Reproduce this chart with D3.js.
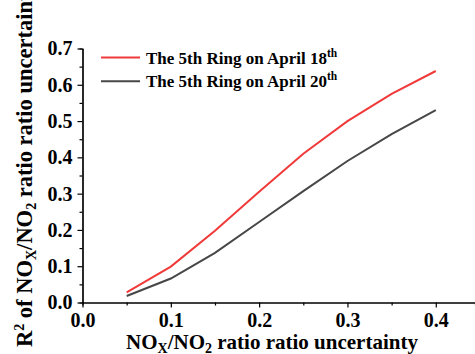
<!DOCTYPE html>
<html>
<head>
<meta charset="utf-8">
<script src="https://cdn.jsdelivr.net/npm/d3@7"></script>
<style>
	body { margin: 0; background: #fff; overflow: hidden; }
	text { font-family: "Liberation Serif", "Times New Roman", serif; font-weight: bold; fill: #000; }
</style>
</head>
<body>
<div id="chart"></div>
<script>
// NOx/NO2 ratio uncertainty
const uncertainty = [0.05, 0.1, 0.15, 0.2, 0.25, 0.3, 0.35, 0.4];
// R^2 for each day
const april18 = [0.028, 0.099, 0.198, 0.305, 0.41, 0.5, 0.575, 0.638];
const april20 = [0.018, 0.066, 0.137, 0.222, 0.307, 0.39, 0.464, 0.53];
const seriesNames = ['The 5th Ring on April 18', 'The 5th Ring on April 20'];
const seriesColors = ['#f03a3a', '#474747'];
const xTicks = [0, 0.1, 0.2, 0.3, 0.4];
const yTicks = [0, 0.1, 0.2, 0.3, 0.4, 0.5, 0.6, 0.7];

const width = 475, height = 354;
const margin = { top: 48.5, right: 0, bottom: 51.5, left: 82.5 };

const svg = d3.select('#chart')
	.append('svg')
	.attr('width', width)
	.attr('height', height);

const x = d3.scaleLinear()
	.domain([0, 0.4444])
	.range([margin.left, width - margin.right]);

const y = d3.scaleLinear()
	.domain([0, 0.7])
	.range([height - margin.bottom, margin.top]);

// minor ticks at the half steps
const xMinor = d3.range(0.05, 0.45, 0.1);
const yMinor = d3.range(0.05, 0.7, 0.1);

const axisStyle = g => {
	g.select('.domain').attr('stroke', '#000').attr('stroke-width', 1.2);
	g.selectAll('.tick line').attr('stroke', '#000').attr('stroke-width', 1.2);
};

svg.append('g')
	.attr('transform', `translate(0,${height - margin.bottom})`)
	.call(d3.axisBottom(x).tickValues(xMinor).tickSize(3).tickFormat(''))
	.call(axisStyle);

svg.append('g')
	.attr('transform', `translate(0,${height - margin.bottom})`)
	.call(d3.axisBottom(x).tickValues(xTicks).tickSize(5).tickSizeOuter(0).tickPadding(5).tickFormat(d3.format('.1f')))
	.call(axisStyle)
	.selectAll('text')
	.style('font-size', '20px');

svg.append('g')
	.attr('transform', `translate(${margin.left},0)`)
	.call(d3.axisLeft(y).tickValues(yMinor).tickSize(3).tickFormat(''))
	.call(axisStyle);

svg.append('g')
	.attr('transform', `translate(${margin.left},0)`)
	.call(d3.axisLeft(y).tickValues(yTicks).tickSize(5).tickSizeOuter(0).tickPadding(5).tickFormat(d3.format('.1f')))
	.call(axisStyle)
	.selectAll('text')
	.style('font-size', '20px');

const line = d3.line()
	.x((d, i) => x(uncertainty[i]))
	.y(d => y(d));

svg.selectAll('.series')
	.data([april18, april20])
	.join('path')
	.attr('class', 'series')
	.attr('d', line)
	.attr('fill', 'none')
	.attr('stroke', (d, i) => seriesColors[i])
	.attr('stroke-width', 2);

// legend
const legend = svg.append('g').attr('transform', 'translate(101,57.5)');
seriesNames.forEach((name, i) => {
	const row = legend.append('g').attr('transform', `translate(0,${i * 23.7})`);
	row.append('line')
		.attr('x1', 0).attr('x2', 39)
		.attr('stroke', seriesColors[i])
		.attr('stroke-width', 2);
	const t = row.append('text')
		.attr('x', 45)
		.attr('y', 6)
		.style('font-size', '17px')
		.text(name);
	t.append('tspan')
		.attr('dy', -7)
		.style('font-size', '11.5px')
		.text('th');
});

// axis titles
const xTitle = svg.append('text')
	.attr('x', 272)
	.attr('y', 348.5)
	.attr('text-anchor', 'middle')
	.style('font-size', '21px');
xTitle.append('tspan').text('NO');
xTitle.append('tspan').attr('dy', 4).style('font-size', '14px').text('X');
xTitle.append('tspan').attr('dy', -4).text('/NO');
xTitle.append('tspan').attr('dy', 4).style('font-size', '14px').text('2');
xTitle.append('tspan').attr('dy', -4).text(' ratio ratio uncertainty');

const yTitle = svg.append('text')
	.attr('transform', 'translate(32,347) rotate(-90)')
	.attr('text-anchor', 'start')
	.style('font-size', '22.5px');
yTitle.append('tspan').text('R');
yTitle.append('tspan').attr('dy', -8).style('font-size', '14px').text('2');
yTitle.append('tspan').attr('dy', 8).text(' of NO');
yTitle.append('tspan').attr('dy', 4).style('font-size', '14px').text('X');
yTitle.append('tspan').attr('dy', -4).text('/NO');
yTitle.append('tspan').attr('dy', 4).style('font-size', '14px').text('2');
yTitle.append('tspan').attr('dy', -4).text(' ratio ratio uncertainty');
</script>
</body>
</html>
